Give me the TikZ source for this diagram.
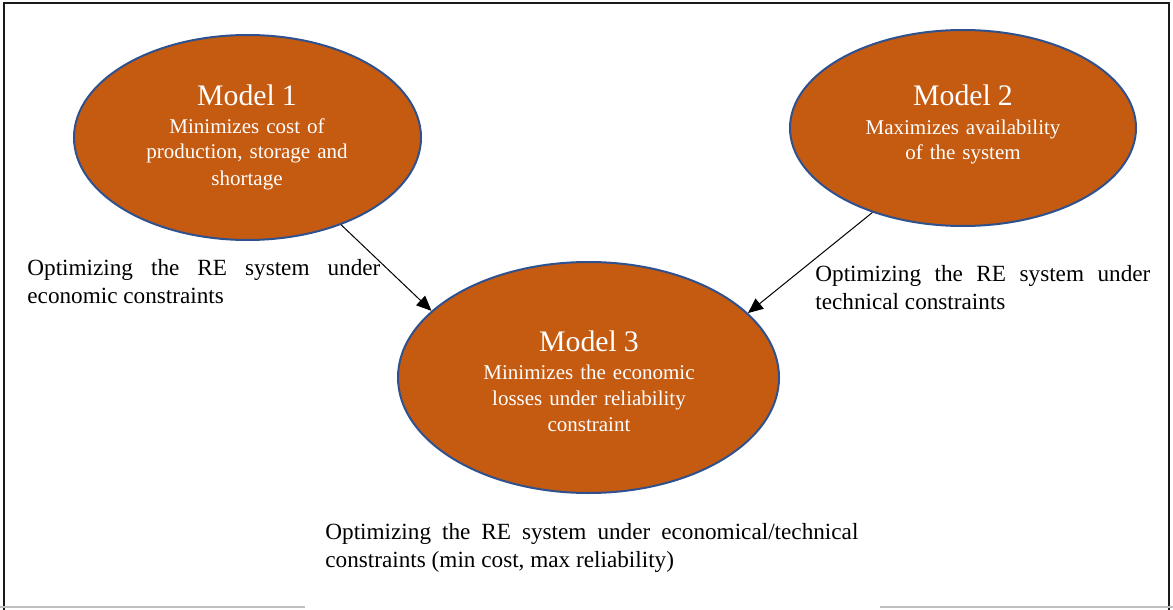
\documentclass[tikz,border=0pt]{standalone}
\usepackage{fontspec}
\setmainfont{Liberation Serif}
\usetikzlibrary{arrows.meta, shapes.geometric}
\definecolor{corange}{HTML}{C55A11}
\definecolor{cblue}{HTML}{2F528F}
\definecolor{cframe}{HTML}{1A1A1A}
\definecolor{cgray}{HTML}{BFBFBF}
\newcommand\modelname[1]{{\fontsize{14.9}{17}\selectfont #1}\\[1pt]}

\begin{document}
\begin{tikzpicture}[x=0.5pt, y=-0.5pt,
  model/.style={ellipse, fill=corange, draw=cblue, line width=1pt, inner sep=0pt},
  modeltext/.style={text=white, text width=170pt, align=center, inner sep=0pt, anchor=base,
    font=\fontsize{10.5}{13}\selectfont},
  note/.style={inner sep=0pt, anchor=base west, align=justify, font=\fontsize{11.6}{14}\selectfont},
  link/.style={-{Triangle[length=7.5pt, width=6.5pt]}, line width=0.5pt}]
  \useasboundingbox (0,0) rectangle (1173,610);

  % Frame
  \draw[cframe, line width=1pt] (4,610) -- (4,3) -- (1169,3) -- (1169,610);
  \draw[cgray, line width=0.6pt] (0,607) -- (305,607);
  \draw[cgray, line width=0.6pt] (880,607) -- (1173,607);

  % Models
  \node[model, minimum width=173.5pt, minimum height=102.5pt] (m1) at (247.5,137.5) {};
  \node[model, minimum width=173pt, minimum height=98pt] (m2) at (963,128) {};
  \node[model, minimum width=190.5pt, minimum height=115.5pt] (m3) at (588.5,377.5) {};

  \node[modeltext] (m1txt) at (247,105) {\modelname{Model 1}Minimizes cost of\\production, storage and\\shortage};
  \node[modeltext] (m2txt) at (963,106) {\modelname{Model 2}Maximizes availability\\of the system};
  \node[modeltext] (m3txt) at (589,351) {\modelname{Model 3}Minimizes the economic\\losses under reliability\\constraint};

  % Links
  \draw[link] (m1.-43) -- (m3.157);
  \draw[link] (m2.223) -- (m3.22);

  % Annotations
  \node[note, text width=176.5pt] (lbl1) at (27,275)
    {Optimizing the RE system under\linebreak economic constraints};
  \node[note, text width=167.5pt] (lbl2) at (815,281)
    {Optimizing the RE system under\linebreak technical constraints};
  \node[note, text width=266.5pt] (lbl3) at (325,539)
    {Optimizing the RE system under economical/technical\linebreak constraints (min cost, max reliability)};
\end{tikzpicture}
\end{document}
